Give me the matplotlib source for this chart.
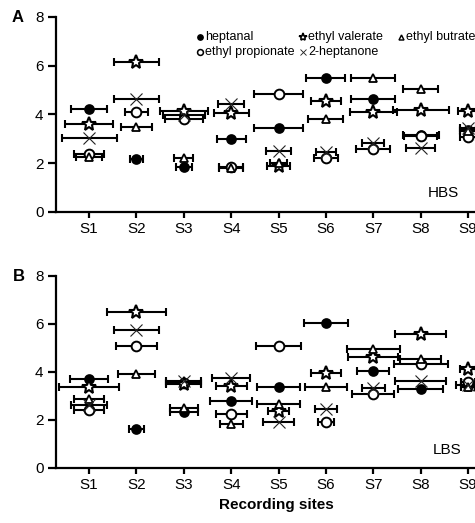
import numpy as np
import matplotlib
matplotlib.use("Agg")
import matplotlib.pyplot as plt
from matplotlib.lines import Line2D

plt.rcParams['font.family'] = ['Liberation Sans', 'DejaVu Sans']

sites = [1, 2, 3, 4, 5, 6, 7, 8, 9]
site_labels = ["S1", "S2", "S3", "S4", "S5", "S6", "S7", "S8", "S9"]
compounds = ["heptanal", "ethyl propionate", "ethyl valerate", "ethyl butrate", "2-heptanone"]

# HBS panel
hbs_heptanal = [4.22, 2.18, 1.85, 2.99, 3.45, 5.48, 4.63, 3.15, 3.36]
hbs_heptanal_err = [0.38, 0.14, 0.17, 0.31, 0.51, 0.41, 0.46, 0.38, 0.17]
hbs_propionate = [2.38, 4.11, 3.79, 1.83, 4.82, 2.19, 2.59, 3.10, 3.08]
hbs_propionate_err = [0.32, 0.24, 0.40, 0.25, 0.51, 0.25, 0.36, 0.35, 0.17]
hbs_valerate = [3.60, 6.15, 4.15, 4.04, 1.88, 4.56, 4.10, 4.18, 4.12]
hbs_valerate_err = [0.50, 0.48, 0.50, 0.37, 0.25, 0.31, 0.50, 0.59, 0.22]
hbs_butrate = [2.25, 3.48, 2.19, 1.80, 1.99, 3.82, 5.51, 5.05, 3.30]
hbs_butrate_err = [0.28, 0.33, 0.20, 0.25, 0.17, 0.37, 0.46, 0.37, 0.17]
hbs_heptanone = [3.01, 4.63, 3.97, 4.42, 2.51, 2.47, 2.81, 2.60, 3.42]
hbs_heptanone_err = [0.58, 0.47, 0.45, 0.27, 0.27, 0.21, 0.23, 0.30, 0.17]

# LBS panel
lbs_heptanal = [3.71, 1.64, 2.35, 2.79, 3.36, 6.03, 4.03, 3.29, 3.40]
lbs_heptanal_err = [0.40, 0.15, 0.29, 0.44, 0.46, 0.46, 0.34, 0.47, 0.14]
lbs_propionate = [2.42, 5.07, 3.55, 2.24, 5.10, 1.92, 3.10, 4.32, 3.60]
lbs_propionate_err = [0.31, 0.44, 0.37, 0.33, 0.48, 0.17, 0.44, 0.57, 0.14]
lbs_valerate = [3.36, 6.51, 3.49, 3.42, 2.38, 3.96, 4.64, 5.57, 4.13]
lbs_valerate_err = [0.64, 0.62, 0.37, 0.33, 0.23, 0.32, 0.53, 0.53, 0.17]
lbs_butrate = [2.86, 3.93, 2.51, 1.83, 2.67, 3.36, 4.96, 4.56, 3.36]
lbs_butrate_err = [0.31, 0.40, 0.29, 0.24, 0.45, 0.44, 0.56, 0.44, 0.14]
lbs_heptanone = [2.62, 5.74, 3.64, 3.76, 1.90, 2.44, 3.35, 3.64, 3.45]
lbs_heptanone_err = [0.38, 0.47, 0.37, 0.40, 0.33, 0.23, 0.24, 0.53, 0.25]

# marker style per compound
styles = {
    "heptanal": dict(marker='o', ms=6.5, mfc='black', mec='black', mew=1.2),
    "ethyl propionate": dict(marker='o', ms=7, mfc='white', mec='black', mew=1.4),
    "ethyl valerate": dict(marker='*', ms=10, mfc='white', mec='black', mew=1.5),
    "ethyl butrate": dict(marker='^', ms=6, mfc='white', mec='black', mew=1.3),
    "2-heptanone": dict(marker='x', ms=8, mfc='none', mec='#222222', mew=0.8),
}

panels = [
    ("HBS", [hbs_heptanal, hbs_propionate, hbs_valerate, hbs_butrate, hbs_heptanone],
     [hbs_heptanal_err, hbs_propionate_err, hbs_valerate_err, hbs_butrate_err, hbs_heptanone_err]),
    ("LBS", [lbs_heptanal, lbs_propionate, lbs_valerate, lbs_butrate, lbs_heptanone],
     [lbs_heptanal_err, lbs_propionate_err, lbs_valerate_err, lbs_butrate_err, lbs_heptanone_err]),
]

fig = plt.figure(figsize=(4.75, 5.23), dpi=100)
ax_a = fig.add_axes([0.1179, 0.5952, 0.927, 0.3723])
ax_b = fig.add_axes([0.1179, 0.1052, 0.927, 0.3671])

label_pos = {"HBS": (0.879, 0.096), "LBS": (0.888, 0.094)}

for ax, (name, vals, errs) in zip([ax_a, ax_b], panels):
    for comp, v, e in zip(compounds, vals, errs):
        ax.errorbar(sites, v, xerr=e, fmt='none', ecolor='black', elinewidth=1.5,
                    capsize=3, capthick=1.5, zorder=2)
        ax.plot(sites, v, ls='none', zorder=3, **styles[comp])
    ax.set_xlim(0.3, 9.6)
    ax.set_ylim(0, 8)
    ax.set_yticks([0, 2, 4, 6, 8])
    ax.set_xticks(sites)
    ax.set_xticklabels(site_labels)
    for s in ['top', 'right']:
        ax.spines[s].set_visible(False)
    for s in ['left', 'bottom']:
        ax.spines[s].set_linewidth(1.6)
    ax.tick_params(axis='y', length=6, width=1.6, labelsize=11, pad=3)
    ax.tick_params(axis='x', length=4.5, width=1.6, labelsize=11, pad=3)
    lx, ly = label_pos[name]
    ax.text(lx, ly, name, transform=ax.transAxes, fontsize=11, ha='center', va='center')

ax_b.set_xlabel("Recording sites", fontsize=11, fontweight='bold', labelpad=4)

fig.text(0.038, 0.966, "A", fontsize=12, fontweight='bold', ha='center', va='center')
fig.text(0.040, 0.471, "B", fontsize=12, fontweight='bold', ha='center', va='center')

# hand-placed legend like the original (3 columns, 2 rows)
leg = [("heptanal", 0.327, 0.897), ("ethyl valerate", 0.560, 0.897), ("ethyl butrate", 0.783, 0.897),
       ("ethyl propionate", 0.327, 0.820), ("2-heptanone", 0.560, 0.820)]
for comp, lx, ly in leg:
    st = dict(styles[comp])
    st['ms'] = st['ms'] * 0.6
    st['mew'] = st['mew'] * 0.8
    ax_a.add_line(Line2D([lx], [ly], transform=ax_a.transAxes, ls='none', clip_on=False, **st))
    ax_a.text(lx + 0.012, ly, comp, transform=ax_a.transAxes, fontsize=9, ha='left', va='center')

fig.savefig("out.png", dpi=100)
